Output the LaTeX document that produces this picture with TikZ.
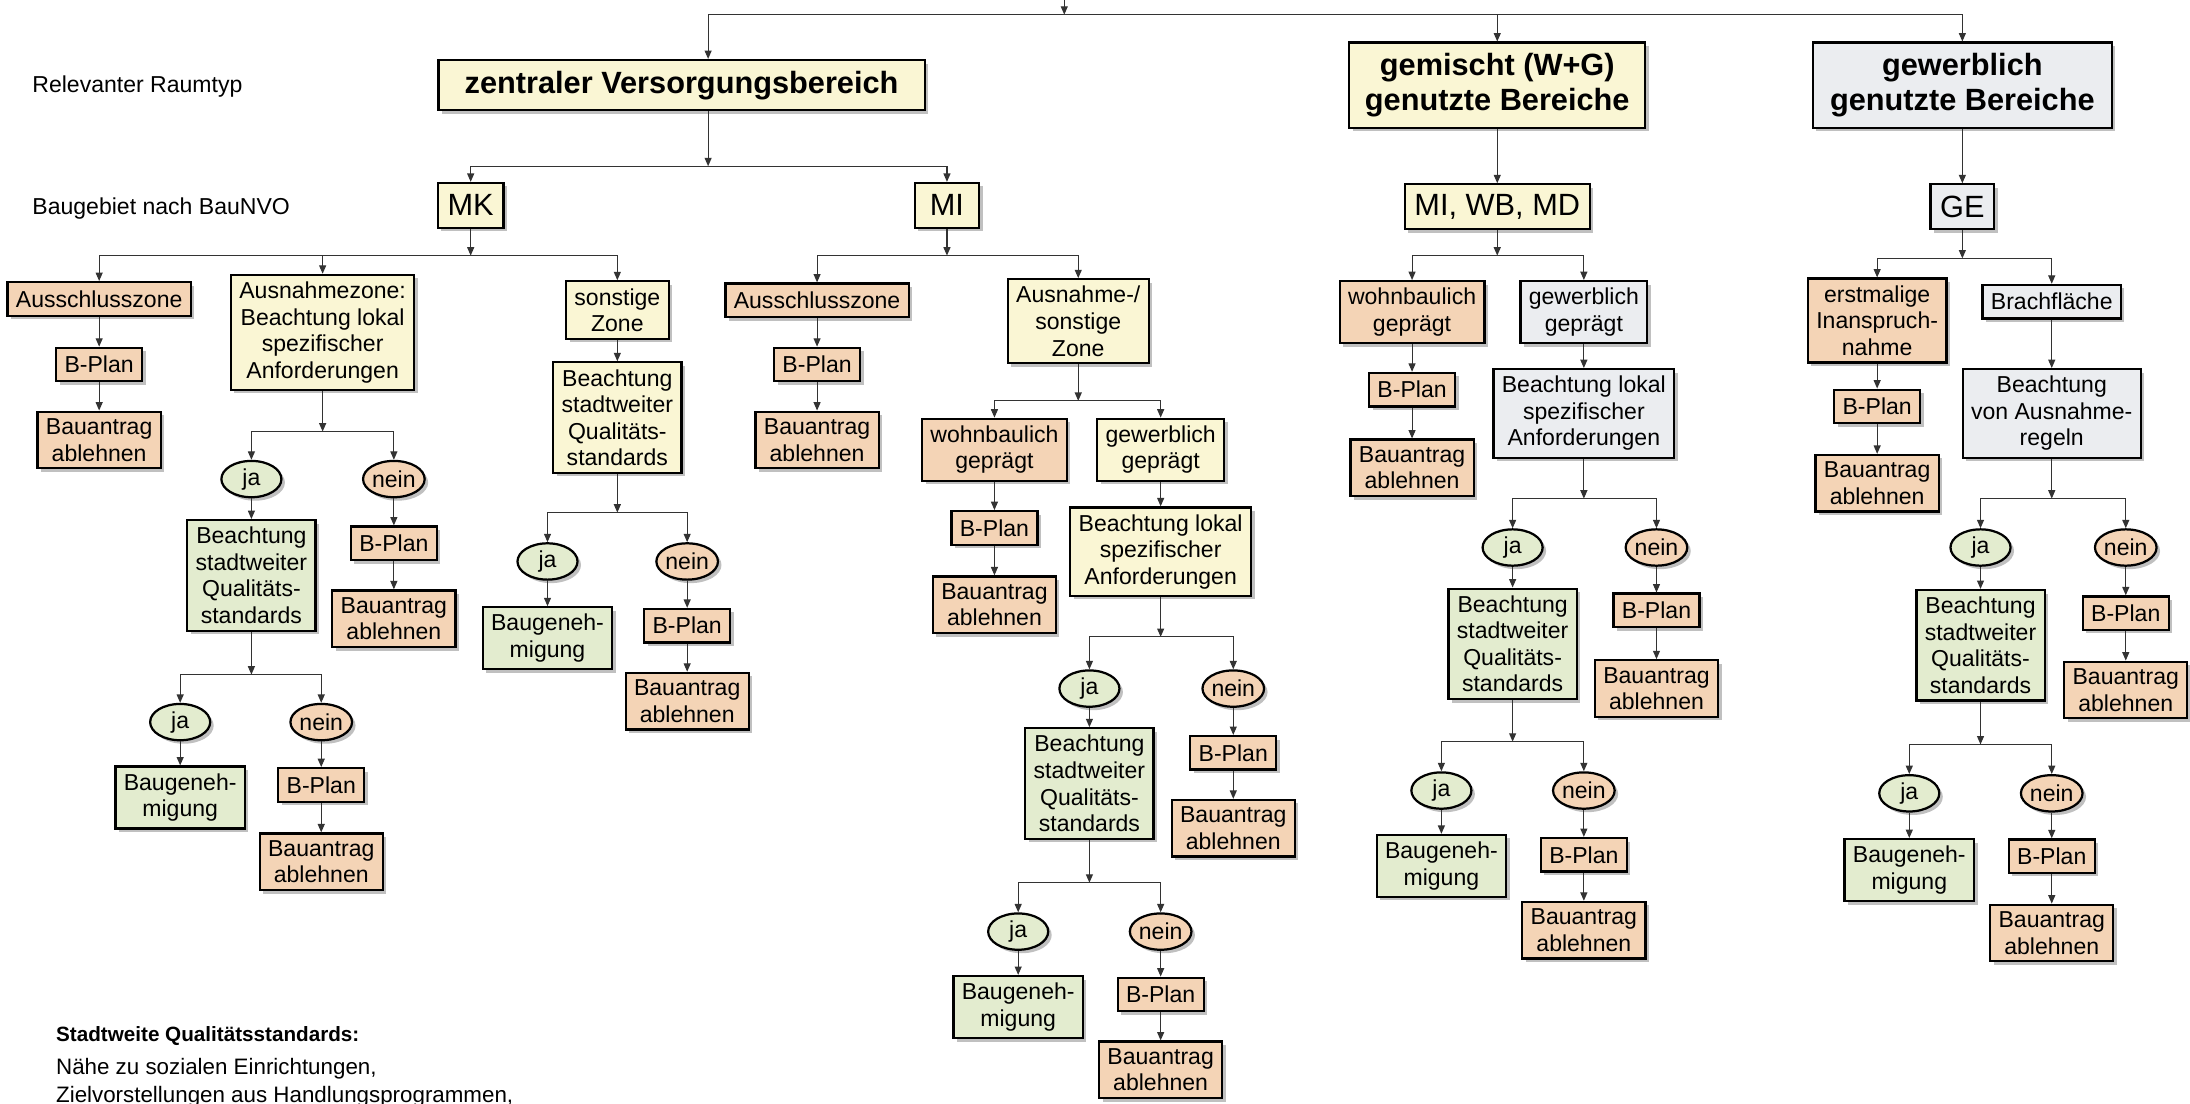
\documentclass[tikz,border=0pt]{standalone}
\usepackage{fontspec}
\setmainfont{Liberation Sans}
\usetikzlibrary{arrows.meta,shapes.geometric,shadows}

\definecolor{peach}{RGB}{244,212,182}
\definecolor{cream}{RGB}{250,246,212}
\definecolor{sage}{RGB}{227,236,207}
\definecolor{cloud}{RGB}{235,237,240}

\begin{document}
\begin{tikzpicture}[x=1pt, y=-1pt,
    shade/.style={drop shadow={shadow xshift=2.5pt, shadow yshift=-2.5pt, fill=black!55, opacity=0.45}},
    box/.style={draw, line width=1.6pt, align=center, inner xsep=6pt, inner ysep=5pt, minimum height=24pt, font=\fontsize{16.5}{19}\selectfont, shade},
    big/.style={box, font=\fontsize{22}{25}\selectfont\bfseries, minimum width=212pt, minimum height=61pt},
    code/.style={box, font=\fontsize{22}{25}\selectfont, inner xsep=7pt, minimum width=46pt, minimum height=32pt},
    answer/.style={ellipse, draw, line width=1.6pt, minimum width=43pt, minimum height=26pt, inner sep=0pt, font=\fontsize{16.5}{19}\selectfont, shade},
    refusal/.style={fill=peach},
    zone/.style={fill=cream},
    approval/.style={fill=sage},
    trade/.style={fill=cloud},
    label/.style={anchor=west, inner sep=0pt, font=\fontsize{16.5}{19}\selectfont},
    arrow/.style={-{Triangle[length=6pt, width=5pt]}, line width=0.8pt, draw=black!80}
  ]
    \useasboundingbox (0,0) rectangle (1568,790);

    % row labels
    \node[label] (raumtyp) at (23,62) {Relevanter Raumtyp};
    \node[label] (baugebiet) at (23,149) {Baugebiet nach BauNVO};

    % Raumtyp
    \node[big, zone, minimum width=348pt, minimum height=36pt] (zvb) at (488,61) {zentraler Versorgungsbereich};
    \node[big, zone] (gem) at (1072,61) {gemischt (W+G)\\genutzte Bereiche};
    \node[big, trade, minimum width=214pt] (gew) at (1405,61) {gewerblich\\genutzte Bereiche};

    % Baugebiet
    \node[code, zone] (mk) at (337,147) {MK};
    \node[code, zone] (mi) at (678,147) {MI};
    \node[code, zone] (mix) at (1072,148) {MI, WB, MD};
    \node[code, trade, minimum width=44pt] (ge) at (1405,148) {GE};

    % junctions
    \coordinate (top) at (762,0);
    \coordinate (jTop) at (762,10.5);
    \coordinate (jZvb) at (507,119);
    \coordinate (jMk) at (337,183);
    \coordinate (jMkAnz) at (231,309);
    \coordinate (jMkQs) at (180,483);
    \coordinate (jMkSon) at (442,367);
    \coordinate (jMi) at (678,183);
    \coordinate (jMiAns) at (772,287);
    \coordinate (jMiLs) at (831,456);
    \coordinate (jMiQs) at (780,632);
    \coordinate (jMix) at (1072,183);
    \coordinate (jMxLs) at (1134,357);
    \coordinate (jMxQs) at (1083,531);
    \coordinate (jGe) at (1405,185);
    \coordinate (jGeRegel) at (1469,357);
    \coordinate (jGeQs) at (1418,533);

    % MK
    \node[box, refusal] (mkAus) at (71,214) {Ausschlusszone};
    \node[box, refusal] (mkAusBp) at (71,261) {B-Plan};
    \node[box, refusal] (mkAusBa) at (71,315) {Bauantrag\\ablehnen};
    \node[box, zone] (mkAnz) at (231,238) {Ausnahmezone:\\Beachtung lokal\\spezifischer\\Anforderungen};
    \node[answer, approval] (mkAnzJa) at (180,343) {ja};
    \node[answer, refusal] (mkAnzNein) at (282,343) {nein};
    \node[box, approval] (mkAnzQs) at (180,412) {Beachtung\\stadtweiter\\Qualitäts-\\standards};
    \node[box, refusal] (mkAnzBp) at (282,389) {B-Plan};
    \node[box, refusal] (mkAnzBa) at (282,443) {Bauantrag\\ablehnen};
    \node[answer, approval] (mkQsJa) at (129,517) {ja};
    \node[answer, refusal] (mkQsNein) at (230,517) {nein};
    \node[box, approval] (mkQsBg) at (129,571) {Baugeneh-\\migung};
    \node[box, refusal] (mkQsBp) at (230,562) {B-Plan};
    \node[box, refusal] (mkQsBa) at (230,617) {Bauantrag\\ablehnen};
    \node[box, zone] (mkSon) at (442,222) {sonstige\\Zone};
    \node[box, zone] (mkSonQs) at (442,299) {Beachtung\\stadtweiter\\Qualitäts-\\standards};
    \node[answer, approval] (mkSonJa) at (392,402) {ja};
    \node[answer, refusal] (mkSonNein) at (492,402) {nein};
    \node[box, approval] (mkSonBg) at (392,457) {Baugeneh-\\migung};
    \node[box, refusal] (mkSonBp) at (492,448) {B-Plan};
    \node[box, refusal] (mkSonBa) at (492,502) {Bauantrag\\ablehnen};

    % MI
    \node[box, refusal] (miAus) at (585,215) {Ausschlusszone};
    \node[box, refusal] (miAusBp) at (585,261) {B-Plan};
    \node[box, refusal] (miAusBa) at (585,315) {Bauantrag\\ablehnen};
    \node[box, zone] (miAns) at (772,230) {Ausnahme-/\\sonstige\\Zone};
    \node[box, refusal] (miWohn) at (712,322) {wohnbaulich\\geprägt};
    \node[box, zone] (miGew) at (831,322) {gewerblich\\geprägt};
    \node[box, refusal] (miWohnBp) at (712,378) {B-Plan};
    \node[box, refusal] (miWohnBa) at (712,433) {Bauantrag\\ablehnen};
    \node[box, zone] (miGewLs) at (831,395) {Beachtung lokal\\spezifischer\\Anforderungen};
    \node[answer, approval] (miLsJa) at (780,493) {ja};
    \node[answer, refusal] (miLsNein) at (883,493) {nein};
    \node[box, approval] (miQs) at (780,561) {Beachtung\\stadtweiter\\Qualitäts-\\standards};
    \node[box, refusal] (miLsBp) at (883,539) {B-Plan};
    \node[box, refusal] (miLsBa) at (883,593) {Bauantrag\\ablehnen};
    \node[answer, approval] (miQsJa) at (729,667) {ja};
    \node[answer, refusal] (miQsNein) at (831,667) {nein};
    \node[box, approval] (miQsBg) at (729,721) {Baugeneh-\\migung};
    \node[box, refusal] (miQsBp) at (831,712) {B-Plan};
    \node[box, refusal] (miQsBa) at (831,766) {Bauantrag\\ablehnen};

    % MI, WB, MD
    \node[box, refusal] (mxWohn) at (1011,223.5) {wohnbaulich\\geprägt};
    \node[box, trade] (mxGew) at (1134,223.5) {gewerblich\\geprägt};
    \node[box, refusal] (mxWohnBp) at (1011,279) {B-Plan};
    \node[box, refusal] (mxWohnBa) at (1011,335) {Bauantrag\\ablehnen};
    \node[box, trade] (mxGewLs) at (1134,296) {Beachtung lokal\\spezifischer\\Anforderungen};
    \node[answer, approval] (mxLsJa) at (1083,392) {ja};
    \node[answer, refusal] (mxLsNein) at (1186,392) {nein};
    \node[box, approval] (mxQs) at (1083,461) {Beachtung\\stadtweiter\\Qualitäts-\\standards};
    \node[box, refusal] (mxLsBp) at (1186,437) {B-Plan};
    \node[box, refusal] (mxLsBa) at (1186,493) {Bauantrag\\ablehnen};
    \node[answer, approval] (mxQsJa) at (1032,566) {ja};
    \node[answer, refusal] (mxQsNein) at (1134,566) {nein};
    \node[box, approval] (mxQsBg) at (1032,620) {Baugeneh-\\migung};
    \node[box, refusal] (mxQsBp) at (1134,612) {B-Plan};
    \node[box, refusal] (mxQsBa) at (1134,666) {Bauantrag\\ablehnen};

    % GE
    \node[box, refusal] (geErst) at (1344,229.5) {erstmalige\\Inanspruch-\\nahme};
    \node[box, trade] (geBrach) at (1469,216) {Brachfläche};
    \node[box, refusal] (geErstBp) at (1344,291) {B-Plan};
    \node[box, refusal] (geErstBa) at (1344,346) {Bauantrag\\ablehnen};
    \node[box, trade] (geRegel) at (1469,296) {Beachtung\\von Ausnahme-\\regeln};
    \node[answer, approval] (geJa) at (1418,392) {ja};
    \node[answer, refusal] (geNein) at (1522,392) {nein};
    \node[box, approval] (geQs) at (1418,462) {Beachtung\\stadtweiter\\Qualitäts-\\standards};
    \node[box, refusal] (geBp) at (1522,439) {B-Plan};
    \node[box, refusal] (geBa) at (1522,494) {Bauantrag\\ablehnen};
    \node[answer, approval] (geQsJa) at (1367,568) {ja};
    \node[answer, refusal] (geQsNein) at (1469,568) {nein};
    \node[box, approval] (geQsBg) at (1367,623) {Baugeneh-\\migung};
    \node[box, refusal] (geQsBp) at (1469,613) {B-Plan};
    \node[box, refusal] (geQsBa) at (1469,668) {Bauantrag\\ablehnen};

    % footnote
    \node[label, font=\fontsize{14.8}{18}\selectfont\bfseries] (qsHead) at (40,742) {Stadtweite Qualitätsstandards:};
    \node[label, font=\fontsize{16}{20}\selectfont, align=left] (qsText) at (40,775) {Nähe zu sozialen Einrichtungen,\\Zielvorstellungen aus Handlungsprogrammen,};

    % top level
    \draw[arrow] (top) -- (jTop);
    \draw[arrow] (jTop) -| (zvb.north -| jZvb);
    \draw[arrow] (jTop) -| (gem);
    \draw[arrow] (jTop) -| (gew);
    \draw[arrow] (zvb.south -| jZvb) -- (jZvb);
    \draw[arrow] (jZvb) -| (mk);
    \draw[arrow] (jZvb) -| (mi);
    \draw[arrow] (gem) -- (mix);
    \draw[arrow] (gew) -- (ge);

    % MK
    \draw[arrow] (mk) -- (jMk);
    \draw[arrow] (jMk) -| (mkAus);
    \draw[arrow] (jMk) -| (mkAnz);
    \draw[arrow] (jMk) -| (mkSon);
    \draw[arrow] (mkAus) -- (mkAusBp);
    \draw[arrow] (mkAusBp) -- (mkAusBa);
    \draw[arrow] (mkAnz) -- (jMkAnz);
    \draw[arrow] (jMkAnz) -| (mkAnzJa);
    \draw[arrow] (jMkAnz) -| (mkAnzNein);
    \draw[arrow] (mkAnzJa) -- (mkAnzQs);
    \draw[arrow] (mkAnzNein) -- (mkAnzBp);
    \draw[arrow] (mkAnzBp) -- (mkAnzBa);
    \draw[arrow] (mkAnzQs) -- (jMkQs);
    \draw[arrow] (jMkQs) -| (mkQsJa);
    \draw[arrow] (jMkQs) -| (mkQsNein);
    \draw[arrow] (mkQsJa) -- (mkQsBg);
    \draw[arrow] (mkQsNein) -- (mkQsBp);
    \draw[arrow] (mkQsBp) -- (mkQsBa);
    \draw[arrow] (mkSon) -- (mkSonQs);
    \draw[arrow] (mkSonQs) -- (jMkSon);
    \draw[arrow] (jMkSon) -| (mkSonJa);
    \draw[arrow] (jMkSon) -| (mkSonNein);
    \draw[arrow] (mkSonJa) -- (mkSonBg);
    \draw[arrow] (mkSonNein) -- (mkSonBp);
    \draw[arrow] (mkSonBp) -- (mkSonBa);

    % MI
    \draw[arrow] (mi) -- (jMi);
    \draw[arrow] (jMi) -| (miAus);
    \draw[arrow] (jMi) -| (miAns);
    \draw[arrow] (miAus) -- (miAusBp);
    \draw[arrow] (miAusBp) -- (miAusBa);
    \draw[arrow] (miAns) -- (jMiAns);
    \draw[arrow] (jMiAns) -| (miWohn);
    \draw[arrow] (jMiAns) -| (miGew);
    \draw[arrow] (miWohn) -- (miWohnBp);
    \draw[arrow] (miWohnBp) -- (miWohnBa);
    \draw[arrow] (miGew) -- (miGewLs);
    \draw[arrow] (miGewLs) -- (jMiLs);
    \draw[arrow] (jMiLs) -| (miLsJa);
    \draw[arrow] (jMiLs) -| (miLsNein);
    \draw[arrow] (miLsJa) -- (miQs);
    \draw[arrow] (miLsNein) -- (miLsBp);
    \draw[arrow] (miLsBp) -- (miLsBa);
    \draw[arrow] (miQs) -- (jMiQs);
    \draw[arrow] (jMiQs) -| (miQsJa);
    \draw[arrow] (jMiQs) -| (miQsNein);
    \draw[arrow] (miQsJa) -- (miQsBg);
    \draw[arrow] (miQsNein) -- (miQsBp);
    \draw[arrow] (miQsBp) -- (miQsBa);

    % MI, WB, MD
    \draw[arrow] (mix) -- (jMix);
    \draw[arrow] (jMix) -| (mxWohn);
    \draw[arrow] (jMix) -| (mxGew);
    \draw[arrow] (mxWohn) -- (mxWohnBp);
    \draw[arrow] (mxWohnBp) -- (mxWohnBa);
    \draw[arrow] (mxGew) -- (mxGewLs);
    \draw[arrow] (mxGewLs) -- (jMxLs);
    \draw[arrow] (jMxLs) -| (mxLsJa);
    \draw[arrow] (jMxLs) -| (mxLsNein);
    \draw[arrow] (mxLsJa) -- (mxQs);
    \draw[arrow] (mxLsNein) -- (mxLsBp);
    \draw[arrow] (mxLsBp) -- (mxLsBa);
    \draw[arrow] (mxQs) -- (jMxQs);
    \draw[arrow] (jMxQs) -| (mxQsJa);
    \draw[arrow] (jMxQs) -| (mxQsNein);
    \draw[arrow] (mxQsJa) -- (mxQsBg);
    \draw[arrow] (mxQsNein) -- (mxQsBp);
    \draw[arrow] (mxQsBp) -- (mxQsBa);

    % GE
    \draw[arrow] (ge) -- (jGe);
    \draw[arrow] (jGe) -| (geErst);
    \draw[arrow] (jGe) -| (geBrach);
    \draw[arrow] (geErst) -- (geErstBp);
    \draw[arrow] (geErstBp) -- (geErstBa);
    \draw[arrow] (geBrach) -- (geRegel);
    \draw[arrow] (geRegel) -- (jGeRegel);
    \draw[arrow] (jGeRegel) -| (geJa);
    \draw[arrow] (jGeRegel) -| (geNein);
    \draw[arrow] (geJa) -- (geQs);
    \draw[arrow] (geNein) -- (geBp);
    \draw[arrow] (geBp) -- (geBa);
    \draw[arrow] (geQs) -- (jGeQs);
    \draw[arrow] (jGeQs) -| (geQsJa);
    \draw[arrow] (jGeQs) -| (geQsNein);
    \draw[arrow] (geQsJa) -- (geQsBg);
    \draw[arrow] (geQsNein) -- (geQsBp);
    \draw[arrow] (geQsBp) -- (geQsBa);
  \end{tikzpicture}
\end{document}
